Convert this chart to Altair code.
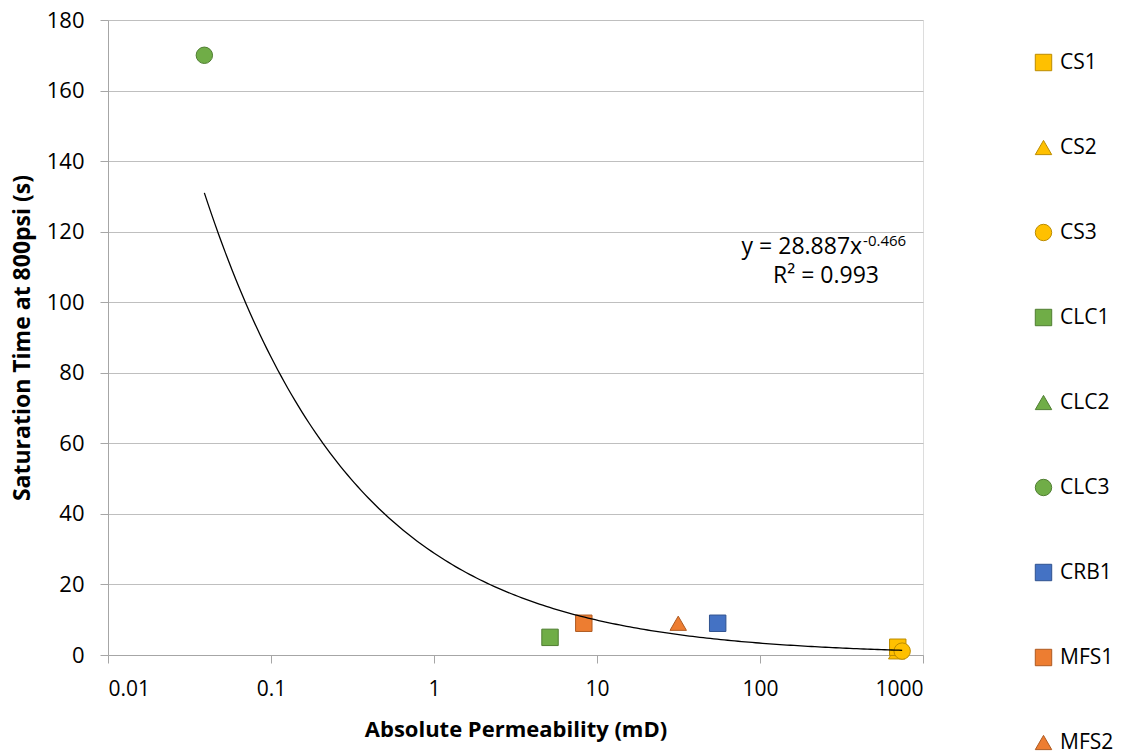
import altair as alt
import pandas as pd

# Sample measurements: absolute permeability (mD) vs. saturation time at 800 psi (s)
series = ["CS2", "CS1", "CS3", "CLC1", "CLC3", "CRB1", "MFS1", "MFS2"]
permeability = [690, 700, 745, 5.15, 0.039, 55, 8.3, 31.5]
sat_time = [0.9, 2.2, 1.1, 5.0, 170, 9.0, 9.0, 9.0]

legend_order = ["CS1", "CS2", "CS3", "CLC1", "CLC2", "CLC3", "CRB1", "MFS1", "MFS2"]
fill_colors = ["#FFC000", "#FFC000", "#FFC000", "#70AD47", "#70AD47", "#70AD47",
               "#4472C4", "#ED7D31", "#ED7D31"]
edge_colors = ["#BC8C00", "#BC8C00", "#BC8C00", "#507E32", "#507E32", "#507E32",
               "#2F528F", "#AE5A21", "#AE5A21"]
shapes = ["square", "triangle-up", "circle", "square", "triangle-up", "circle",
          "square", "square", "triangle-up"]

# Power-law trend line y = a * x^b
coef_a = 28.887
coef_b = -0.466
r_squared = 0.993
fit_start = 0.039
fit_end = 745

x_ticks = [0.01, 0.1, 1, 10, 100, 1000]
y_ticks = list(range(0, 181, 20))

df = pd.DataFrame({"series": series, "k": permeability, "t": sat_time})

font = "Open Sans"
grey = "#A6A6A6"

x_scale = alt.Scale(type="log", domain=[0.01, 1000])
y_scale = alt.Scale(domain=[0, 180])

legend = alt.Legend(
    title=None, orient="none", legendX=925, legendY=32,
    labelFont=font, labelFontSize=21, labelColor="#000000",
    symbolSize=270, symbolStrokeWidth=1, rowPadding=63, labelOffset=6,
)

points = alt.Chart(df).mark_point(filled=True, opacity=1, strokeWidth=1, size=270).encode(
    x=alt.X("k:Q", scale=x_scale,
            axis=alt.Axis(title="Absolute Permeability (mD)", values=x_ticks, format="~g",
                          grid=False, domainColor=grey, tickColor=grey,
                          tickSize=8, labelFont=font, labelFontSize=21, labelColor="#000000",
                          labelPadding=15, titleFont=font, titleFontSize=22,
                          titleFontWeight="bold", titlePadding=20, titleColor="#000000")),
    y=alt.Y("t:Q", scale=y_scale,
            axis=alt.Axis(title="Saturation Time at 800psi (s)", values=y_ticks,
                          grid=True, gridColor="#BFBFBF", domainColor=grey,
                          tickColor=grey, tickSize=8, labelFont=font, labelFontSize=22,
                          labelColor="#000000", labelPadding=16, titleFont=font,
                          titleFontSize=23, titleFontWeight="bold", titlePadding=12,
                          titleColor="#000000")),
    fill=alt.Fill("series:N", scale=alt.Scale(domain=legend_order, range=fill_colors), legend=legend),
    stroke=alt.Stroke("series:N", scale=alt.Scale(domain=legend_order, range=edge_colors), legend=legend),
    shape=alt.Shape("series:N", scale=alt.Scale(domain=legend_order, range=shapes), legend=legend),
)

# Trend curve generated in log space from the fitted coefficients
trend = alt.Chart(alt.sequence(0, 1.0001, 0.005, as_="u")).transform_calculate(
    k=f"pow(10, log({fit_start})/LN10 + datum.u * (log({fit_end})/LN10 - log({fit_start})/LN10))"
).transform_calculate(
    t=f"{coef_a} * pow(datum.k, {coef_b})"
).mark_line(color="#000000", strokeWidth=1.3).encode(
    x=alt.X("k:Q", scale=x_scale),
    y=alt.Y("t:Q", scale=y_scale),
)

eq_df = pd.DataFrame({"k": [423], "t": [113.7]})
eq_main = alt.Chart(eq_df).mark_text(
    text=f"y = {coef_a}x", font=font, fontSize=23, align="right", baseline="alphabetic",
    color="#000000"
).encode(x="k:Q", y="t:Q")
eq_sup = alt.Chart(eq_df).mark_text(
    text=f"{coef_b}", font=font, fontSize=15, align="left", baseline="alphabetic",
    dx=1, dy=-8, color="#000000"
).encode(x="k:Q", y="t:Q")
r2_df = pd.DataFrame({"k": [254], "t": [105.4]})
r2_text = alt.Chart(r2_df).mark_text(
    text=f"R² = {r_squared}", font=font, fontSize=23, align="center", baseline="alphabetic",
    color="#000000"
).encode(x="k:Q", y="t:Q")

chart = alt.layer(points, trend, eq_main, eq_sup, r2_text).properties(
    width=815, height=635,
    padding={"left": 108, "top": 20, "right": 204, "bottom": 98},
    autosize=alt.AutoSizeParams(type="none"),
).configure_view(stroke=None).configure(background="#FFFFFF")

chart.save("out.html", embed_options={"renderer": "svg", "actions": False})
